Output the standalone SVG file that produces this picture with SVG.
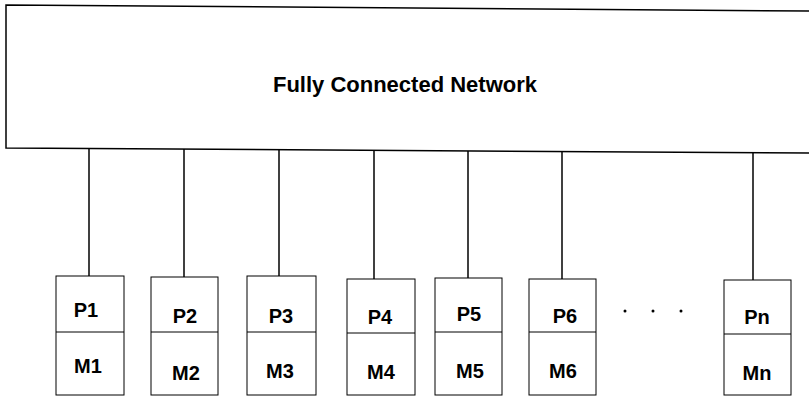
<svg xmlns="http://www.w3.org/2000/svg" width="809" height="396" viewBox="0 0 809 396">
<style>
.ln{stroke:#000;stroke-width:1.5;fill:none}
.bx{stroke:#000;stroke-width:1;fill:#fff}
.dv{stroke:#000;stroke-width:1}
.t{font-family:"Liberation Sans",Arial,sans-serif;font-weight:bold;font-size:20px;text-anchor:middle;fill:#000}
.title{font-family:"Liberation Sans",Arial,sans-serif;font-weight:bold;font-size:22px;text-anchor:middle;fill:#000}
</style>
<rect width="809" height="396" fill="#fff"/>
<g id="network">
<polyline class="ln" points="809,11 6,5 6,148 809,153"/>
<text class="title" x="405" y="92">Fully Connected Network</text>
</g>
<g id="connectors">
<line class="ln" x1="89" y1="149" x2="89" y2="276"/>
<line class="ln" x1="184" y1="149" x2="184" y2="277"/>
<line class="ln" x1="279" y1="150" x2="279" y2="276"/>
<line class="ln" x1="374" y1="150" x2="374" y2="279"/>
<line class="ln" x1="468" y1="151" x2="468" y2="278"/>
<line class="ln" x1="562" y1="151" x2="562" y2="279"/>
<line class="ln" x1="753" y1="152" x2="753" y2="280"/>
</g>
<g id="node1">
<rect class="bx" x="56" y="276" width="68" height="119"/>
<line class="dv" x1="56" y1="332" x2="124" y2="332"/>
<text class="t" x="86" y="317">P1</text>
<text class="t" x="88" y="373">M1</text>
</g>
<g id="node2">
<rect class="bx" x="151" y="277" width="67" height="118"/>
<line class="dv" x1="151" y1="332" x2="218" y2="332"/>
<text class="t" x="185" y="323">P2</text>
<text class="t" x="186" y="380">M2</text>
</g>
<g id="node3">
<rect class="bx" x="247" y="276" width="69" height="119"/>
<line class="dv" x1="247" y1="332" x2="316" y2="332"/>
<text class="t" x="281" y="323">P3</text>
<text class="t" x="280" y="378">M3</text>
</g>
<g id="node4">
<rect class="bx" x="347" y="279" width="68" height="116"/>
<line class="dv" x1="347" y1="333" x2="415" y2="333"/>
<text class="t" x="380" y="324">P4</text>
<text class="t" x="381" y="379">M4</text>
</g>
<g id="node5">
<rect class="bx" x="435" y="278" width="67" height="117"/>
<line class="dv" x1="435" y1="332" x2="502" y2="332"/>
<text class="t" x="469" y="321">P5</text>
<text class="t" x="470" y="378">M5</text>
</g>
<g id="node6">
<rect class="bx" x="529" y="279" width="67" height="116"/>
<line class="dv" x1="529" y1="332" x2="596" y2="332"/>
<text class="t" x="565" y="323">P6</text>
<text class="t" x="563" y="378">M6</text>
</g>
<g id="ellipsis">
<circle cx="625" cy="311" r="1.5" fill="#000"/>
<circle cx="653" cy="311" r="1.5" fill="#000"/>
<circle cx="681" cy="311" r="1.5" fill="#000"/>
</g>
<g id="noden">
<rect class="bx" x="724" y="280" width="67" height="115"/>
<line class="dv" x1="724" y1="334" x2="791" y2="334"/>
<text class="t" x="757" y="324">Pn</text>
<text class="t" x="757" y="380">Mn</text>
</g>
</svg>
